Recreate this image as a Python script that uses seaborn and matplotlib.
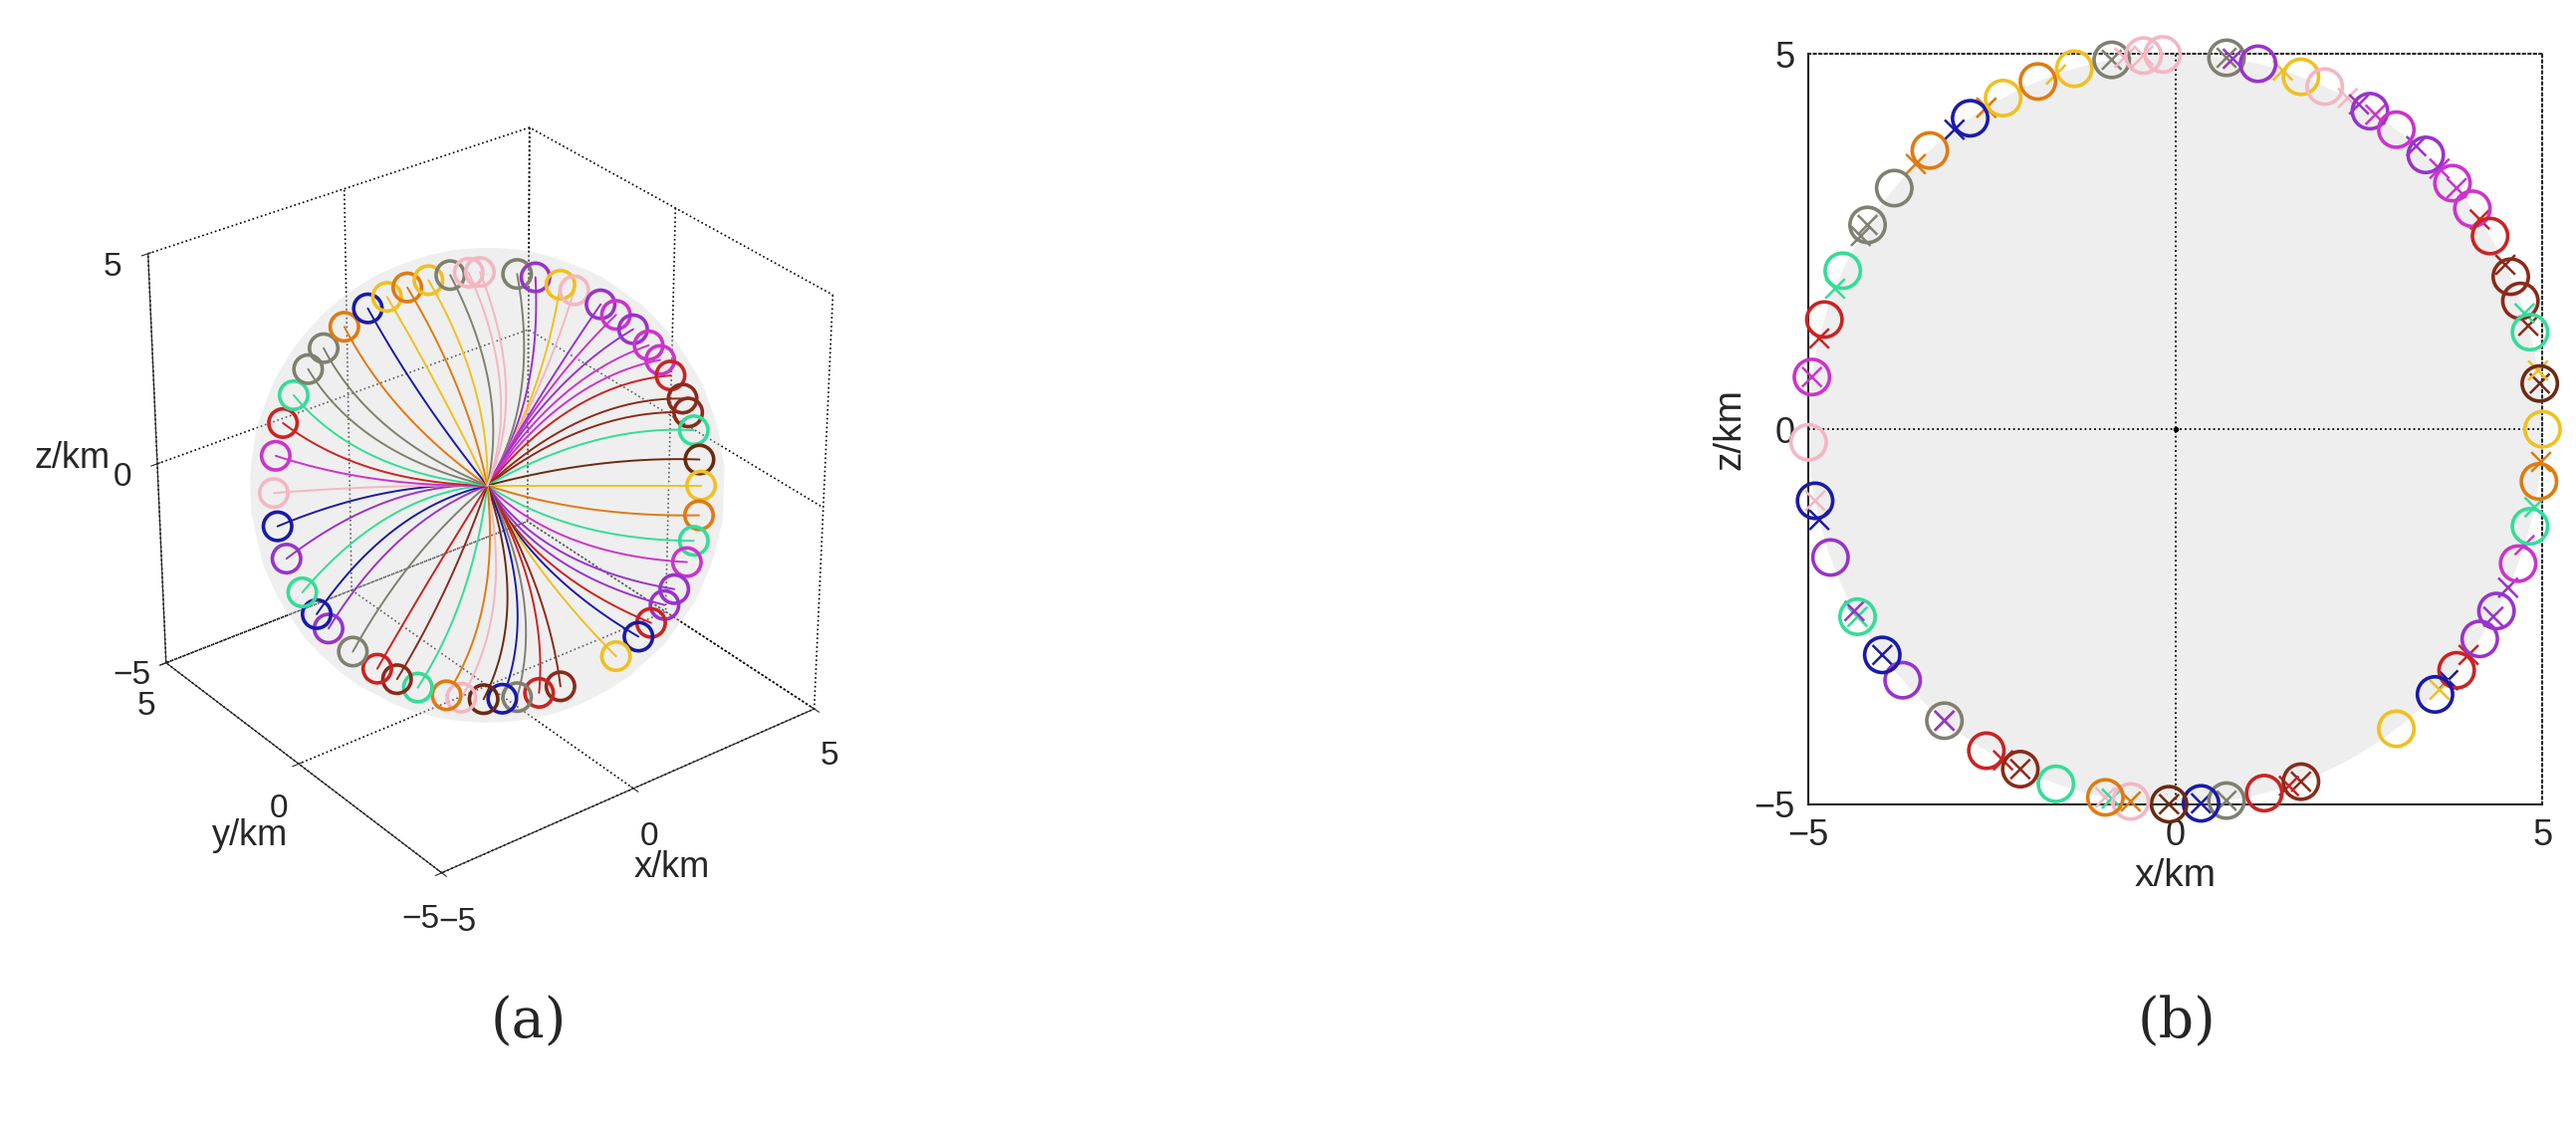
import numpy as np
import matplotlib
matplotlib.use("Agg")
import matplotlib.pyplot as plt
import seaborn as sns
from matplotlib.patches import Circle

sns.set_style("white")
plt.rcParams['font.family'] = ['Liberation Sans', 'DejaVu Sans']

# angles (deg) of the target points in the x-z plane, with colour and offset of the x marker
angles = [82, 77, 70, 66, 58, 53, 47, 41, 36, 31, 24, 20, 15, 7, 0, -8, -15, -21, -29, -34, -40, -45, -53,
          -70, -76, -82, -86, -91, -97, -101, -109, -115, -121, -129, -138, -143, -150, -160, -169, -178,
          172, 163, 155, 147, 140, 132, 124, 118, 112, 106, 100, 95, 92]
colors = ['#808070', '#9933cc', '#f0c020', '#f4b6c2', '#9933cc', '#cc33cc', '#9933cc', '#cc33cc', '#cc33cc',
          '#cc2222', '#8b2a1a', '#8b2a1a', '#33dd99', '#6b2a10', '#f0c020', '#e07a10', '#33dd99', '#cc33cc',
          '#9933cc', '#9933cc', '#cc2222', '#1a1aaa', '#f0c020', '#8b2a1a', '#cc2222', '#808070', '#1a1aaa',
          '#6b2a10', '#f4b6c2', '#e07a10', '#33dd99', '#8b2a1a', '#cc2222', '#808070', '#9933cc', '#1a1aaa',
          '#33dd99', '#9933cc', '#1a1aaa', '#f4b6c2', '#cc33cc', '#cc2222', '#33dd99', '#808070', '#808070',
          '#e07a10', '#1a1aaa', '#f0c020', '#e07a10', '#f0c020', '#808070', '#f4b6c2', '#f4b6c2']
cross_offset = [0, 4, 3, -4, 2, 4, 2, 3, 4, 3, 2, -4, 3, 0, 9, 3, 3, 3, 4, 4, 3, 3, 9,
                0, 4, 0, 0, 0, -4, 4, 9, 0, 3, 0, 9, 0, 0, 9, 3, 9, 0, 3, 3, 0, 9, 3, 3, 3, 9, 3, 0, 3, 3]
R = 5.0

fig = plt.figure(figsize=(25.87, 11.33), dpi=100)

# ---------- (b) ----------
ax = fig.add_axes([0.702, 0.287, 0.285, 0.665])
ax.add_patch(Circle((0, 0), R, facecolor='#eeeeee', edgecolor='none', zorder=0, clip_on=False))
th = np.deg2rad(angles)
xs, zs = R * np.cos(th), R * np.sin(th)
thx = np.deg2rad(np.array(angles) + np.array(cross_offset))
xx, zx = R * np.cos(thx), R * np.sin(thx)
sns.scatterplot(x=xx, y=zx, c=colors, marker='x', s=200, linewidth=1.8, ax=ax, zorder=3, clip_on=False)
ax.scatter(xs, zs, s=650, facecolors='none', edgecolors=colors, linewidths=2.6, zorder=4, clip_on=False)
ax.plot(0, 0, 'k.', ms=6)
ax.axhline(0, color='k', ls=':', lw=1.3)
ax.axvline(0, color='k', ls=':', lw=1.3)
ax.set_xlim(-5, 5); ax.set_ylim(-5, 5)
ax.set_xticks([-5, 0, 5]); ax.set_yticks([-5, 0, 5])
ax.tick_params(labelsize=26, direction='in', length=0, pad=10)
for s in ['top', 'right']:
    ax.spines[s].set_linestyle(':'); ax.spines[s].set_linewidth(1.5)
for s in ['left', 'bottom']:
    ax.spines[s].set_linewidth(1.5)
ax.set_xlabel('x/km', fontsize=28)
ax.set_ylabel('z/km', fontsize=28)
fig.text(0.845, 0.08, '(b)', fontsize=40, family='DejaVu Serif', ha='center')

# ---------- (a) ----------
ax3 = fig.add_axes([0.03, 0.17, 0.31, 0.78], projection='3d', computed_zorder=False)
azim, elev = -127.5, 30
ax3.view_init(elev=elev, azim=azim)
a, e = np.deg2rad(azim), np.deg2rad(elev)
vdir = np.array([np.cos(e) * np.cos(a), np.cos(e) * np.sin(a), np.sin(e)])
u = np.cross([0, 0, 1], vdir); u /= np.linalg.norm(u)
w = np.cross(vdir, u)
pu, pv = np.mgrid[0:2 * np.pi:40j, 0:np.pi:20j]
ax3.plot_surface(R * np.cos(pu) * np.sin(pv), R * np.sin(pu) * np.sin(pv), R * np.cos(pv),
                 color='#dddddd', alpha=0.25, linewidth=0, shade=False, zorder=0)
tt = np.linspace(0, 1, 30)
for ang, c in zip(angles, colors):
    t = np.deg2rad(ang)
    p = 0.9 * R * (np.cos(t) * u + np.sin(t) * w)
    bend = 0.5 * np.sin(3 * t) * (np.cos(t + 1.2) * u + np.sin(t + 1.2) * w)
    curve = np.outer(tt, p) + np.outer(tt * (1 - tt) * 4, bend)
    ax3.plot(curve[:, 0], curve[:, 1], curve[:, 2], color=c, lw=1.4, zorder=2)
    ax3.scatter([p[0]], [p[1]], [p[2]], s=420, facecolors='none', edgecolors=c, linewidths=2.6,
                depthshade=False, zorder=3)
ax3.set_xlim(-5, 5); ax3.set_ylim(-5, 5); ax3.set_zlim(-5, 5)
ax3.set_xticks([-5, 0, 5]); ax3.set_yticks([-5, 0, 5]); ax3.set_zticks([-5, 0, 5])
ax3.tick_params(labelsize=24, pad=8)
ax3.set_xlabel('x/km', fontsize=26, labelpad=18)
ax3.set_ylabel('y/km', fontsize=26, labelpad=18)
ax3.set_zlabel('z/km', fontsize=26, labelpad=18)
for axis in (ax3.xaxis, ax3.yaxis, ax3.zaxis):
    axis.set_pane_color((1, 1, 1, 0))
    axis._axinfo['grid'].update(color='k', linestyle=':', linewidth=1.2)
ax3.set_box_aspect((1, 1, 1))
fig.text(0.205, 0.08, '(a)', fontsize=40, family='DejaVu Serif', ha='center')

fig.savefig('out.png', dpi=100)
